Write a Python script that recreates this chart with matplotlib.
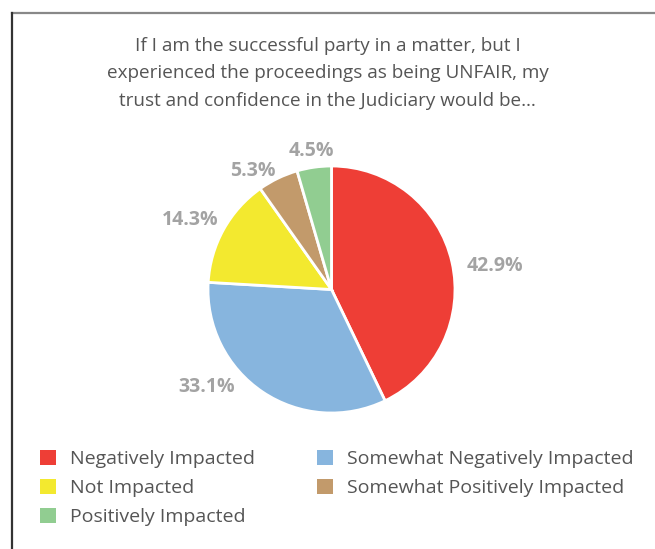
import numpy as np
import matplotlib
matplotlib.use("Agg")
import matplotlib.pyplot as plt
from matplotlib.patches import Patch
from matplotlib.lines import Line2D

plt.rcParams['font.family'] = ['Open Sans', 'DejaVu Sans']

title = ("If I am the successful party in a matter, but I\n"
         "experienced the proceedings as being UNFAIR, my\n"
         "trust and confidence in the Judiciary would be…")
categories = ["Negatively Impacted", "Somewhat Negatively Impacted", "Not Impacted",
              "Somewhat Positively Impacted", "Positively Impacted"]
values = [42.9, 33.1, 14.3, 5.3, 4.5]
colors = ["#ee3e36", "#87b5de", "#f3e92f", "#c29a6b", "#91cd91"]

# label placement: radius (in pie radii) and angular nudge (degrees) per wedge
label_radius = [1.334, 1.282, 1.274, 1.151, 1.132]
label_nudge = [-4.8, -18.4, 3.0, 8.1, 0.0]

W, H = 655, 549
fig = plt.figure(figsize=(W / 100, H / 100), dpi=100)
fig.patch.set_facecolor("white")

# frame: top and left rules
fig.add_artist(Line2D([12 / W, 1], [1 - 13 / H, 1 - 13 / H], color="#888888", lw=1.6))
fig.add_artist(Line2D([12 / W, 12 / W], [0, 1 - 13 / H], color="#333333", lw=1.6))

fig.text(0.5, 1 - 73.5 / H, title, ha="center", va="center", fontsize=13.6,
         color="#555555", linespacing=1.68)

cx, cy, r = 331.5, 289.5, 123.5
ax = fig.add_axes([(cx - r) / W, 1 - (cy + r) / H, 2 * r / W, 2 * r / H])
wedges, _ = ax.pie(values, colors=colors, startangle=90, counterclock=False,
                   wedgeprops=dict(edgecolor="white", linewidth=2))
ax.set_xlim(-1, 1)
ax.set_ylim(-1, 1)
ax.set_aspect("equal")
ax.axis("off")

for w, v, rr, dn in zip(wedges, values, label_radius, label_nudge):
    mid = np.deg2rad((w.theta1 + w.theta2) / 2 + dn)
    ax.text(rr * np.cos(mid), rr * np.sin(mid), f"{v:.1f}%", ha="center", va="center",
            fontsize=14, fontweight="bold", color="#a3a3a3", clip_on=False)

order = [0, 2, 4, 1, 3]
handles = [Patch(facecolor=colors[i], edgecolor="none") for i in order]
labels = [categories[i] for i in order]
fig.legend(handles, labels, loc="upper left", bbox_to_anchor=(40 / W, 1 - 450 / H),
           ncol=2, frameon=False, fontsize=14, labelcolor="#555555",
           borderpad=0, borderaxespad=0,
           handlelength=0.82, handleheight=0.82, handletextpad=0.72,
           labelspacing=0.55, columnspacing=3.2)

fig.savefig("out.png", dpi=100, facecolor="white")
